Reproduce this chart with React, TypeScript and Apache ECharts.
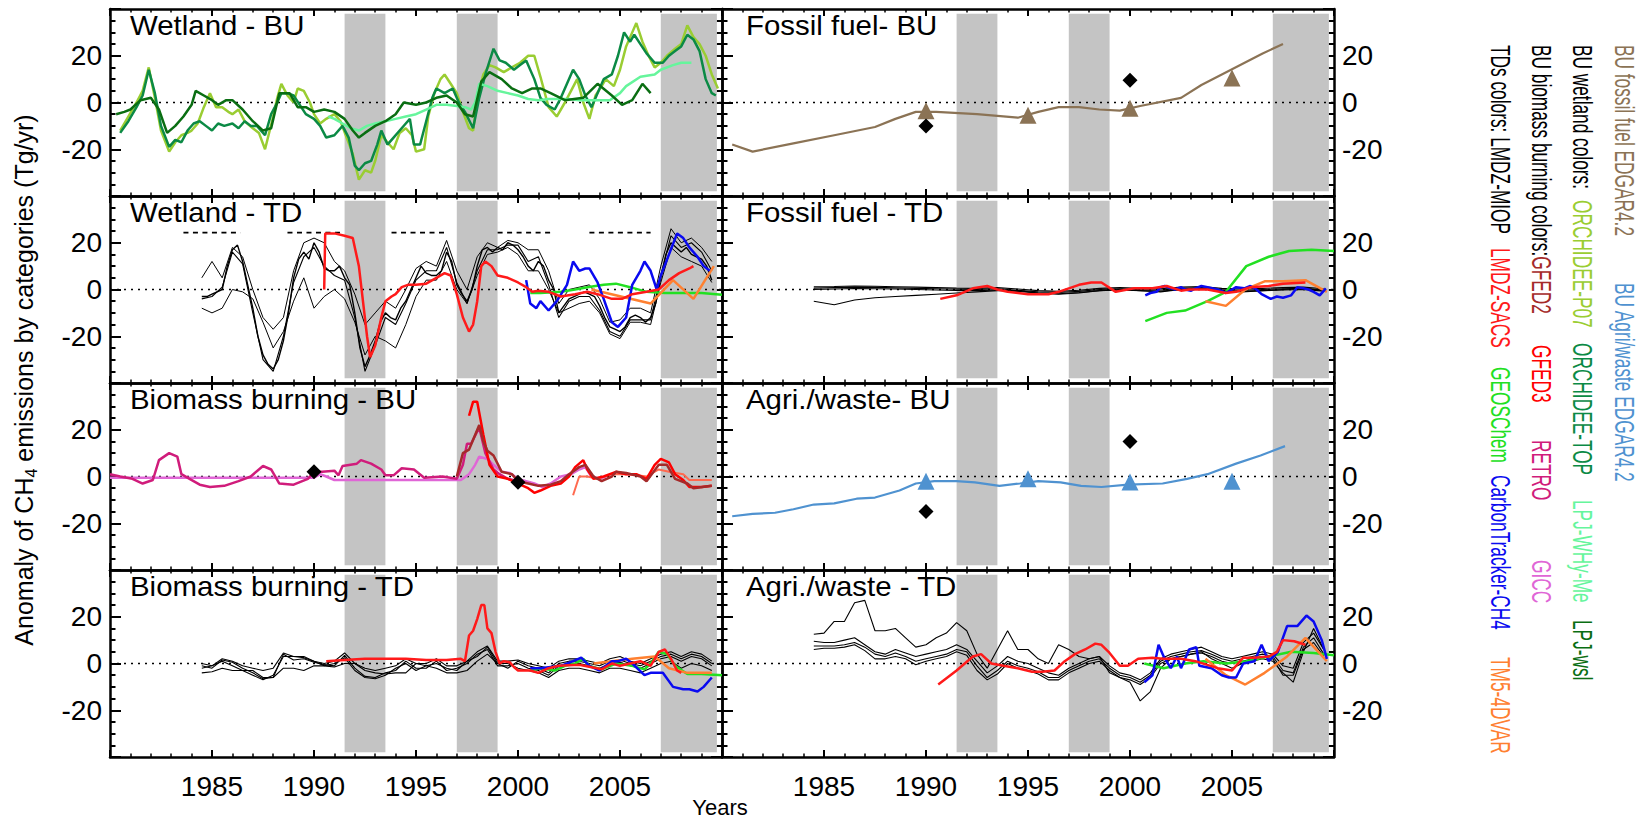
import React, { useEffect, useRef } from "react";
import * as echarts from "echarts";

type P = [number, number];

// ------------------------------------------------------------------ data
const xMin = 1980;
const xMax = 2010;
const xTickLabels = [1985, 1990, 1995, 2000, 2005];
const yTickLabels = [-20, 0, 20];
const greyBands: [number, number][] = [[1991.5, 1993.5], [1997.0, 1999.0], [2007.0, 2009.75]];
const panelTitles = [
  "Wetland - BU", "Fossil fuel- BU",
  "Wetland - TD", "Fossil fuel - TD",
  "Biomass burning - BU", "Agri./waste- BU",
  "Biomass burning - TD", "Agri./waste - TD",
];

// Wetland BU
const orchideeP07: P[] = [[1980.5,-12],[1980.9,-6],[1981.3,0],[1981.6,5],[1981.9,15],[1982.2,2],[1982.5,-12],[1982.9,-21],[1983.2,-17],[1983.5,-14],[1983.8,-13],[1984.0,-12],[1984.3,-9],[1984.6,-2],[1984.9,4],[1985.2,-2],[1985.5,-2],[1985.8,-4],[1986.0,-5],[1986.3,-3],[1986.6,-8],[1987.0,-11],[1987.3,-13],[1987.6,-20],[1988.0,-6],[1988.2,2],[1988.4,8],[1988.7,3],[1989.0,0],[1989.2,6],[1989.5,5],[1989.8,0],[1990.0,-5],[1990.3,-9],[1990.6,-7],[1991.0,-5],[1991.3,-8],[1991.6,-15],[1991.9,-22],[1992.2,-33],[1992.5,-29],[1992.8,-30],[1993.0,-25],[1993.3,-14],[1993.6,-17],[1993.9,-20],[1994.2,-13],[1994.5,-11],[1994.8,-14],[1995.0,-21],[1995.4,-20],[1995.6,-6],[1995.9,4],[1996.2,10],[1996.4,12],[1996.7,8],[1997.0,4],[1997.3,-4],[1997.6,-11],[1997.8,-12],[1998.0,2],[1998.3,12],[1998.6,16],[1998.9,15],[1999.3,13],[1999.7,15],[2000.1,17],[2000.5,20],[2000.8,20],[2001.1,11],[2001.5,-2],[2001.9,-6],[2002.3,0],[2002.6,5],[2002.9,10],[2003.2,0],[2003.5,-7],[2003.8,3],[2004.1,7],[2004.3,10],[2004.7,7],[2005.0,14],[2005.3,24],[2005.6,30],[2005.8,34],[2006.1,26],[2006.4,20],[2006.7,15],[2007.0,17],[2007.3,20],[2007.7,23],[2008.0,25],[2008.3,33],[2008.6,28],[2008.9,25],[2009.2,20],[2009.5,12],[2009.8,6]];
const orchideeTOP: P[] = [[1980.5,-13],[1980.9,-8],[1981.3,-2],[1981.6,3],[1981.9,14],[1982.2,4],[1982.5,-10],[1982.9,-19],[1983.2,-16],[1983.5,-17],[1983.8,-12],[1984.1,-9],[1984.4,-8],[1984.7,-10],[1985.0,-12],[1985.3,-9],[1985.6,-10],[1986.0,-9],[1986.3,-11],[1986.6,-8],[1986.9,-10],[1987.2,-10],[1987.6,-14],[1987.9,-5],[1988.2,0],[1988.4,4],[1988.7,4],[1989.0,3],[1989.3,-1],[1989.6,-5],[1990.0,-7],[1990.3,-10],[1990.6,-15],[1991.0,-14],[1991.4,-10],[1991.7,-15],[1992.0,-27],[1992.2,-29],[1992.5,-26],[1992.8,-25],[1993.1,-18],[1993.3,-12],[1993.6,-18],[1993.9,-15],[1994.2,-12],[1994.5,-9],[1994.7,-7],[1994.9,-18],[1995.2,-18],[1995.5,-8],[1995.8,2],[1996.0,6],[1996.4,4],[1996.8,6],[1997.1,0],[1997.4,-4],[1997.8,-11],[1998.1,2],[1998.4,12],[1998.8,23],[1999.1,18],[1999.4,17],[1999.8,14],[2000.1,16],[2000.4,18],[2000.8,10],[2001.1,2],[2001.4,-1],[2001.8,-3],[2002.1,2],[2002.4,8],[2002.7,14],[2003.0,10],[2003.3,3],[2003.6,-2],[2003.9,4],[2004.2,10],[2004.6,12],[2004.9,20],[2005.2,30],[2005.5,26],[2005.7,29],[2006.0,25],[2006.3,21],[2006.7,17],[2007.1,17],[2007.4,20],[2007.7,22],[2008.0,24],[2008.3,29],[2008.6,27],[2008.9,22],[2009.2,10],[2009.5,4],[2009.7,3]];
const lpjWHyMe: P[] = [[1990.7,-6],[1991.0,-7],[1991.4,-9],[1991.8,-11],[1992.2,-12],[1992.6,-10],[1993.0,-9],[1993.5,-8],[1994.0,-7],[1994.5,-6],[1995.0,-5],[1995.5,-3],[1996.0,-1],[1996.5,-1],[1997.0,-1.5],[1997.4,-2],[1997.7,-3],[1997.9,0],[1998.1,8],[1998.5,7],[1999.0,5],[1999.5,4],[2000.0,3],[2000.5,1.5],[2001.0,1],[2001.5,1.5],[2002.0,1.5],[2002.5,1.5],[2003.0,1],[2003.5,1],[2004.0,1],[2004.5,1],[2005.0,4],[2005.3,7],[2006.0,11],[2006.7,12],[2007.0,14],[2007.6,16],[2008.0,17],[2008.5,17]];
const lpjWsl: P[] = [[1980.3,-5],[1980.7,-4],[1981.0,-3],[1981.5,1],[1982.0,2],[1982.4,-3],[1982.8,-13],[1983.2,-10],[1983.6,-6],[1984.0,-1],[1984.2,5],[1984.6,3],[1985.0,1],[1985.3,-1],[1985.7,1],[1986.0,1],[1986.5,-3],[1987.0,-8],[1987.5,-12],[1987.9,-11],[1988.3,4],[1988.8,4],[1989.2,-2],[1989.6,-2],[1990.0,-4],[1990.5,-3],[1991.0,-4],[1991.5,-7],[1991.9,-12],[1992.2,-15],[1992.5,-13],[1993.0,-10],[1993.5,-8],[1994.0,-5],[1994.4,0],[1995.0,-1],[1995.5,0],[1996.0,2],[1996.5,3],[1997.0,0],[1997.4,-5],[1997.8,-6],[1998.2,9],[1998.6,13],[1999.2,10],[1999.7,6],[2000.2,4],[2000.7,6],[2001.1,6],[2001.6,4],[2002.3,1],[2003.2,2],[2003.9,8],[2004.6,3],[2005.1,-1],[2005.6,1],[2006.1,8],[2006.5,4]];

// Fossil fuel BU
const fossilEdgar: P[] = [[1980.5,-18],[1981.5,-21],[1983.5,-17.5],[1985.5,-14],[1987.5,-10.5],[1988.5,-7],[1989.5,-4],[1990.5,-4],[1992.5,-5],[1994.5,-6.5],[1995.5,-4],[1996.5,-2],[1997.5,-2],[1998.5,-3],[1999.5,-3.5],[2000.5,-1.5],[2002.5,2],[2003.5,7.5],[2005.5,16.5],[2006.5,21],[2007.5,25]];
const fossilTriangles: P[] = [[1990,-3.5],[1995,-5.5],[2000,-2.5],[2005,10.5]];
const fossilDiamonds: P[] = [[1990,-10],[2000,9.5]];

// Agri/waste BU
const agriEdgar: P[] = [[1980.5,-17],[1981.5,-16],[1982.6,-15.5],[1983.5,-14],[1984.5,-12],[1985.5,-11.5],[1986.6,-9.5],[1987.5,-9],[1988.7,-6],[1989.5,-3],[1990.4,-2],[1991.5,-2],[1992.4,-2.5],[1993.6,-4],[1994.6,-3],[1995.5,-2],[1996.6,-2.5],[1997.6,-4],[1998.6,-4.5],[1999.9,-3.5],[2001.6,-3],[2002.8,-1],[2003.8,1],[2005.2,5.5],[2006.4,9],[2007.6,13]];
const agriTriangles: P[] = [[1990,-2],[1995,-1],[2000,-2.3],[2005,-2]];
const agriDiamonds: P[] = [[1990,-15],[2000,15]];

// Biomass burning BU
const retro: P[] = [[1980.0,1],[1980.5,0],[1981.1,-1],[1981.6,-3],[1982.1,-1.5],[1982.4,7],[1982.9,10],[1983.3,8.5],[1983.5,1],[1983.9,-1],[1984.4,-3.5],[1984.9,-4.5],[1985.6,-4],[1986.3,-2],[1986.9,0],[1987.5,4.5],[1987.9,3],[1988.3,-3],[1989.0,-3.5],[1989.7,-1],[1990.0,2],[1990.4,2],[1991.0,2.5],[1991.2,0.5],[1991.4,4.5],[1992.1,5.5],[1992.3,7],[1992.8,5.5],[1993.3,3],[1993.5,0.5],[1993.9,0.5],[1994.3,3.5],[1994.9,3],[1995.4,-0.5],[1996.3,0],[1997.0,-1],[1997.3,5],[1997.5,14],[1997.7,14],[1998.1,21],[1998.4,10],[1998.8,3],[1999.1,1],[1999.5,-1],[2000.0,-2]];
const gicc: P[] = [[1980.0,-0.5],[1990.0,-0.5],[1990.3,1],[1990.6,0],[1991.0,-1.5],[1997.2,-1.5],[1997.6,1],[1997.9,5],[1998.1,8.5],[1998.5,7.5],[1998.8,5],[1999.2,2],[1999.6,1.5],[2000.0,-1],[2000.4,-2],[2000.8,-3],[2001.2,-4.5],[2001.6,-3],[2002.1,0],[2002.6,1],[2003.0,3],[2003.3,4],[2003.6,0],[2004.0,-1],[2004.3,0]];
const gfed2: P[] = [[1997.0,0],[1997.3,10],[1997.6,11.5],[1998.1,22],[1998.3,15],[1998.5,11],[1998.8,9],[1999.2,2],[1999.7,1],[2000.0,-2],[2000.5,-3],[2001.0,-4],[2001.6,-3.5],[2002.1,-2],[2002.5,1],[2003.0,4],[2003.3,5],[2003.7,0],[2004.1,-2],[2004.6,0],[2004.8,2],[2005.3,1.5],[2006.0,0],[2006.3,-2],[2006.9,5],[2007.3,5],[2007.7,-1],[2008.3,-3],[2008.6,-5],[2009.5,-4]];
const gfed3: P[] = [[1997.6,26],[1997.8,32],[1998.0,32],[1998.3,18],[1998.6,5],[1999.0,0],[1999.5,-1],[2000.0,-3],[2000.5,-5],[2000.8,-7],[2001.1,-6],[2001.6,-4],[2002.1,-3],[2002.5,0],[2002.8,4],[2003.2,7],[2003.4,3],[2003.7,-1],[2004.2,0],[2004.8,2],[2005.3,1],[2005.8,1],[2006.3,-1],[2006.7,5],[2007.0,7.5],[2007.4,6],[2007.7,1],[2008.1,-1.5],[2008.4,-4.5],[2009.0,-4.5],[2009.5,-4]];
const gfedOther: P[] = [[2002.7,-8],[2003.0,0],[2003.4,0],[2003.9,-1],[2004.6,1],[2005.5,1],[2006.3,0],[2006.9,3],[2007.4,2],[2008.1,1],[2008.4,-1.5],[2009.5,-1.5]];
const biomassDiamonds: P[] = [[1990,2],[2000,-2.5]];

// Wetland TD (LMDZ-MIOP members: start 1984.5)
const wtMemberA = [-3,-3,-2,-1,0,10,17,19,12,2,-8,-20,-28,-32,-34,-30,-22,-10,5,13,16,13,20,16,9,8,8,10,5,2,-10,-25,-33,-28,-22,-14,-10,-12,-13,-8,-5,0,5,10,7,6,6,8,16,12,2,-2,-5,0,10,17,18,16,18,17,20,19,17,14,10,8,12,10,4,0,-10,-7,-4,-3,-2,-1,-2,-3,-7,-12,-16,-17,-18,-16,-12,-11,-12,-14,-12,-6,5,15,20,18,16,18,15,14,13,10,4];
const wtMemberB = [-4,-3,1,16,11,-10,-30,-35,-20,3,14,18,10,6,4,-12,-35,-24,-12,-15,-6,4,8,8,18,3,-6,8,17,17,19,19,12,14,2,-12,-5,-3,-3,-9,-18,-20,-13,-13,-13,6,23,18,20,16,8];
const wtMemberU = [5,12,5,18,14,0,-12,-17,-12,8,20,22,20,12,8,-2,-15,-10,-5,-8,0,9,12,10,21,8,0,14,20,18,21,20,17,17,8,-6,0,1,2,-4,-14,-13,-8,-8,-10,10,26,20,22,18,12];
const wtMemberL = [-8,-10,-8,0,-1,-4,-14,-25,-18,-5,5,-8,-3,0,-4,-14,-28,-20,-22,-25,-15,-3,4,4,12,0,-6,6,15,16,18,15,8,8,0,-10,-8,-6,-5,-10,-19,-21,-14,-14,-15,3,18,14,12,10,3];
const wtDashLevel = 24.3;
const wtDashSpans: [number, number][] = [[1983.6,1986.4],[1988.7,1991.4],[1993.8,1996.5],[1999.0,2001.6],[2003.5,2006.5]];
const wtSacs: P[] = [[1990.5,0],[1990.55,24],[1991.0,24],[1991.5,23],[1991.9,22],[1992.2,10],[1992.4,-5],[1992.6,-20],[1992.75,-29],[1993.0,-24],[1993.3,-12],[1993.5,-5],[1993.8,-3],[1994.0,-2],[1994.3,1],[1994.6,2],[1995.0,2],[1995.5,2.5],[1996.0,5],[1996.4,7],[1996.7,6],[1997.0,-2],[1997.3,-12],[1997.6,-18],[1997.8,-15],[1998.0,-5],[1998.2,10],[1998.4,12],[1998.7,10],[1999.0,6],[1999.5,5],[2000.0,3],[2000.4,1],[2000.7,-1],[2001.0,-0.5],[2001.5,-1],[2002.1,-3],[2002.8,-2],[2003.4,-1],[2003.9,-2],[2004.6,-4],[2005.1,-4],[2005.6,-2],[2006.3,-1],[2006.9,0],[2007.4,4],[2007.9,7],[2008.4,9],[2008.6,10]];
const wtGeos: P[] = [[2000.6,-1.5],[2001.1,-1.5],[2002.1,-1],[2002.8,0],[2003.4,1],[2004.2,2],[2004.8,2.5],[2005.5,1],[2006.3,-1],[2007.2,-1.5],[2008.1,-1.5],[2009.0,-1.5],[2010.0,-2.2]];
const wtCt: P[] = [[2000.4,4],[2000.6,-6],[2000.9,-8],[2001.1,-5],[2001.5,-9],[2001.9,-5],[2002.4,2],[2002.7,12],[2003.0,8],[2003.3,9],[2003.5,9],[2003.9,3],[2004.2,-4],[2004.6,-14],[2004.9,-16],[2005.3,-12],[2005.6,2],[2006.0,8],[2006.2,12],[2006.5,8],[2006.8,0],[2007.0,6],[2007.4,15],[2007.8,24],[2008.1,22],[2008.4,18],[2008.8,14],[2009.1,10],[2009.4,8]];
const wtTm5: P[] = [[2003.6,0],[2006.5,-6],[2007.6,4],[2008.6,-4],[2009.6,10]];

// Fossil fuel TD (members: start 1984.5, yearly)
const ftMember1 = [1.2,1.3,1.5,1.4,1.2,1.0,0.8,0.6,0.5,0.8,0.2,-0.5,-0.8,-0.3,0.5,0.8,0.5,0.3,1.0,1.3,0.5,0.2,0.5,0.8,1.0,0.3];
const ftMember2 = [0.6,0.8,1.0,0.9,0.7,0.5,0.3,0.1,0.0,0.3,-0.3,-1.0,-1.3,-0.8,0.0,0.3,0.0,-0.2,0.5,0.8,0.0,-0.3,0.0,0.3,0.5,-0.2];
const ftMember3 = [0.0,0.2,0.4,0.3,0.2,0.0,-0.2,-0.4,-0.5,-0.2,-0.8,-1.5,-1.8,-1.3,-0.5,-0.2,-0.5,-0.7,0.0,0.3,-0.5,-0.8,-0.5,-0.2,0.0,-0.7];
const ftMember4 = [-5.0,-6.5,-4.5,-3.5,-3.0,-2.5,-2.0,-1.5,-1.0,-0.5,-0.5,-1.5,-2.0,-1.5,-0.5,0.0,-0.5,-1.0,0.0,0.5,-0.5,-1.0,-0.5,0.0,0.5,-0.5];
const ftSacs: P[] = [[1990.7,-4],[1991.5,-2.5],[1992.3,0.5],[1993.0,1.5],[1993.5,0],[1994.0,-1],[1995.0,-2],[1996.0,-2],[1996.5,-1],[1997.0,0.5],[1997.5,2],[1998.1,3],[1998.6,3],[1999.3,-1],[2000.2,0.5],[2001.1,0.5],[2001.8,1.5],[2002.5,-0.5],[2002.9,0],[2003.8,0],[2004.7,-1.5],[2005.2,-1],[2005.9,1],[2006.8,1.5],[2007.5,2.5],[2008.6,3]];
const ftCt: P[] = [[2000.75,-2.5],[2001.0,-1.5],[2001.3,-1],[2001.5,1],[2001.7,1.5],[2002.0,0.5],[2002.2,0],[2002.5,1],[2002.7,0],[2003.0,-0.5],[2003.2,0.5],[2003.5,1.5],[2003.8,1],[2004.3,0],[2004.7,-1.5],[2005.0,0],[2005.2,1],[2005.6,0.5],[2005.9,1.5],[2006.2,0],[2006.45,-2],[2006.9,-4],[2007.2,-3],[2007.5,-3.5],[2007.9,-2.5],[2008.2,1],[2008.5,0.5],[2008.75,0],[2009.0,-1],[2009.3,-2.5],[2009.6,0.5]];
const ftGeos: P[] = [[2000.75,-13.5],[2001.8,-10],[2002.7,-9],[2003.8,-5],[2004.7,-1],[2005.7,10],[2006.8,14],[2007.8,16.5],[2008.9,17],[2010.0,16.5]];
const ftTm5: P[] = [[2003.7,-5],[2004.7,-7],[2005.65,0],[2006.6,3.5],[2007.5,3.5],[2008.6,4],[2009.65,-1]];

// Biomass burning TD (members: start 1984.5, half-yearly)
const btMember1 = [-1,-2,1.5,0.5,-2,-4,-6.5,-6,4,1.5,2,0.5,-0.5,-1,3.5,-2,-5.5,-6,-4,-3,1,-2,-2,1,-3,-2,0,4,6,-1,-1,0,-2,-3,-5,-1,0,0,-1,-2,0,0.5,-1,-2,0,2,3,1,3,2,-1];
const btMember2 = [-2,-1,1,-1,-3,-5,-7,-5,3,3,2.5,1,-1,0,2.5,-3,-6,-6.5,-5,-2,0,-3,-1,0,-2,-3,1,3,7,0,-2,1,-1,-2,-4,0,1,1,0,-1,1,1.5,0,-1,1,3,4,2,4,3,0];
const btMember3 = [-4,-3.5,-2,-3,-3,-3,-6,-6,-2,-2,-3,-1,-1,-1.5,0,0,-3,-4,-4.5,-4,-4,0,-1,-2,-4,-4,-3,1,4,0,0,-2,-3,-4,-6,-3,-2,-2,-3,-4,-2,-2,-3,-4,-2,0,1,-2,0,-1,-3];
const btMember4 = [0,-1,2,1,-1,-2,-3,-2,4.5,3,3,1,0,1,4.5,0,-2,-3,-2,-1,2,0,0,2,-1,-1,1,5,7.5,1,1,1.5,0,-1,-2,1,2,2,1,0,2,3,1,0,2,4,5,3,5,4,1];
const btSacs: P[] = [[1990.6,1],[1991.5,1.5],[1992.5,2],[1993.5,2],[1994.5,2],[1995.5,1.5],[1996.5,1.5],[1997.2,2],[1997.4,1],[1997.6,12],[1997.8,14],[1998.0,19],[1998.2,25],[1998.35,25],[1998.5,15],[1998.7,13],[1998.9,5],[1999.1,0],[1999.3,1],[1999.6,0.5],[1999.8,-1.5],[2000.0,-3],[2000.3,-3],[2000.6,-3],[2001.0,-4],[2001.5,-2],[2002.0,-1],[2003.0,-0.5],[2004.1,-2.5],[2004.6,0],[2005.0,-1],[2005.5,0],[2006.0,1],[2006.5,-1],[2006.9,5],[2007.2,6],[2007.5,2],[2007.8,-3],[2008.0,-4]];
const btCt: P[] = [[2000.6,-2],[2001.1,-2],[2001.6,-1.5],[2002.1,-1],[2002.7,1],[2003.1,2.5],[2003.5,-1],[2004.0,-3],[2004.6,1],[2004.9,1],[2005.3,2],[2005.6,0],[2006.2,-5],[2006.5,-4],[2007.1,-4],[2007.6,-10],[2008.1,-11],[2008.4,-11],[2008.8,-12],[2009.1,-10],[2009.5,-6]];
const btGeos: P[] = [[2000.6,-3],[2001.1,-2],[2001.8,-3],[2002.3,-1],[2002.8,0],[2003.2,2],[2003.5,-1],[2004.1,-2.5],[2004.8,0],[2005.6,-1],[2006.2,-2.5],[2006.5,0],[2006.9,5],[2007.3,4],[2007.7,-1],[2008.3,-4.5],[2009.0,-4.5],[2010.0,-5]];
const btTm5: P[] = [[2003.7,0],[2005.6,2],[2006.7,3],[2007.4,-2],[2008.3,-4],[2009.5,-4]];

// Agri/waste TD (members: start 1984.5, half-yearly)
const atMemberU = [12.5,13,18,18,26,27,14,14,15,11,7,8,11,13,17.5,14,4,-2,6,14,6,6,2,0,8,6,3,2,3,-4,-6,-8,-16,-12,-2,2,3,4,5,2,0,-2,0,1,2,1,-4,-8,5,15,6];
const atMember1 = [7.5,7.5,7.5,8,9,7,4,3,4.5,3,1,2,3,4,6,5,-1,-6,-3,1,-1,-2,-3.5,-6,-6,-3,-1,1,2,-2,-5,-6,-8,-5,1,3,4,5,5.5,4,2,1,2,3,4,3,-3,-4,7,11,4];
const atMember2 = [9.5,9,9,10,11,8,5,4,6,4.5,3,4,5,6,8,6,1,-4,-1,3,1,0,-2,-4,-5,-2,0,2,3,-1,-4,-5,-7,-4,2,4,5,6,7,5,3,2,3,4,5,4,-1,-2,9,13,6];
const atMember3 = [6,6.5,6.5,7,8,5.5,2,2,3,2,-0.5,1,2,3,5,3.5,-3,-7,-4.5,0,-2,-3,-4.5,-7,-7,-4,-2,0,1,-3,-6,-7,-9,-6,0,2,3,4,4.5,3,1,0,1,2,3,2,-5,-5,6,9,3];
const atSacs: P[] = [[1990.6,-9],[1991.5,-3],[1992.3,3],[1992.7,4],[1993.2,0],[1993.8,-1],[1994.5,-2],[1995.2,-3.5],[1995.7,-3.5],[1996.3,-3],[1996.8,1],[1997.3,4],[1997.8,6],[1998.3,8.5],[1998.6,8],[1998.95,5],[1999.5,-1],[1999.9,-1],[2000.4,2],[2001.1,2.5],[2001.6,2],[2002.5,2],[2003.2,1],[2004.3,-2],[2005.0,-3],[2005.55,2.5],[2006.1,2.5],[2006.8,3],[2007.2,5],[2007.5,10],[2008.05,9.5],[2008.6,8]];
const atCt: P[] = [[2000.7,-8],[2001.1,-5],[2001.4,8],[2001.65,3],[2002.0,-2],[2002.3,3],[2002.5,-2],[2002.9,6],[2003.25,7],[2003.4,-1],[2004.0,-2],[2004.5,-5],[2004.85,-6],[2005.2,-6],[2005.55,0],[2006.1,1],[2006.45,8],[2006.8,1],[2007.25,5],[2007.7,16],[2008.2,16],[2008.65,20.5],[2009.0,18],[2009.4,10],[2009.65,2]];
const atGeos: P[] = [[2000.7,0],[2001.65,-2],[2002.7,0],[2003.6,1],[2004.7,0],[2005.7,1],[2006.8,3],[2007.9,5],[2009.0,4.5],[2010.0,3.5]];
const atTm5: P[] = [[2003.7,2],[2004.7,-5],[2005.65,-9],[2006.6,-4],[2007.7,3],[2008.6,11],[2009.65,1]];

// legend texts
const legendTexts = {
  fossil: "BU fossil fuel EDGAR4.2",
  agri: "BU Agri/waste EDGAR4.2",
  wetlandHead: "BU wetland colors:",
  wetland: ["ORCHIDEE-P07", "ORCHIDEE-TOP", "LPJ-WHy-Me", "LPJ-wsl"],
  biomassHead: "BU biomass burning colors:",
  biomass: ["GFED2", "GFED3", "RETRO", "GICC"],
  tdHead: "TDs colors: LMDZ-MIOP",
  td: ["LMDZ-SACS", "GEOSChem", "CarbonTracker-CH4", "TM5-4DVAR"],
};

// ------------------------------------------------------------------ styles / layout
const FONT = "'Liberation Sans', Arial, Helvetica, sans-serif";
const C = {
  fossil: "#8b7355", agri: "#4f92d0",
  p07: "#9acd32", top: "#0b8a45", why: "#66f59c", wsl: "#0a6e12",
  gfed2: "#a52a2a", gfed3: "#ff0000", retro: "#d01c7b", gicc: "#e066d6", gfedOther: "#ff6a50",
  sacs: "#ff1a1a", geos: "#22e022", ct: "#0a0af0", tm5: "#ff8030",
};
const GRID_LEFT = [110, 722];
const GRID_TOP = 9;
const ROW_H = 187;
const GRID_W = 612;

function members(start: number, step: number, vals: number[]): P[] {
  return vals.map((v, i) => [Math.round((start + i * step) * 1000) / 1000, v] as P);
}

function buildOption() {
  const grid: any[] = [];
  const xAxis: any[] = [];
  const yAxis: any[] = [];
  const series: any[] = [];
  const graphic: any[] = [];

  const axisLine = { show: true, onZero: false, lineStyle: { color: "#000", width: 2.5 } };
  for (let g = 0; g < 8; g++) {
    const r = Math.floor(g / 2);
    const c = g % 2;
    grid.push({ left: GRID_LEFT[c], top: GRID_TOP + r * ROW_H, width: GRID_W, height: ROW_H });
    const xBase = {
      type: "value", gridIndex: g, min: xMin, max: xMax, interval: 5,
      axisLine, splitLine: { show: false },
      axisTick: { show: true, inside: true, length: 7, lineStyle: { color: "#000", width: 2 } },
      minorTick: { show: true, splitNumber: 5, length: 3.5, lineStyle: { color: "#000", width: 1.5 } },
    };
    xAxis.push({
      ...xBase, position: "bottom",
      axisLabel: {
        show: r === 3, fontSize: 28, color: "#000", fontFamily: FONT, margin: 15,
        formatter: (v: number) => (xTickLabels.includes(v) ? String(v) : ""),
      },
    });
    xAxis.push({ ...xBase, position: "top", axisLabel: { show: false } });
    const yBase = {
      type: "value", gridIndex: g, min: -40, max: 40, interval: 20,
      axisLine, splitLine: { show: false },
      axisTick: { show: true, inside: true, length: 11, lineStyle: { color: "#000", width: 2 } },
      minorTick: { show: true, splitNumber: 4, length: 5.5, lineStyle: { color: "#000", width: 2 } },
    };
    const yLab = (show: boolean) => ({
      show, fontSize: 28, color: "#000", fontFamily: FONT, margin: 8,
      formatter: (v: number) => (yTickLabels.includes(v) ? String(v) : ""),
    });
    yAxis.push({ ...yBase, position: "left", axisLabel: yLab(c === 0) });
    yAxis.push({ ...yBase, position: "right", axisLabel: yLab(c === 1) });

    // dotted zero line + grey bands
    series.push({
      type: "line", xAxisIndex: 2 * g, yAxisIndex: 2 * g, data: [[xMin, 0], [xMax, 0]],
      symbol: "none", silent: true, z: 2,
      lineStyle: { color: "#000", width: 1.3, type: [2, 5] },
      markArea: {
        silent: true, itemStyle: { color: "#c4c4c4", opacity: 1 },
        data: greyBands.map(([a, b]) => [{ xAxis: a, yAxis: -38 }, { xAxis: b, yAxis: 38 }]),
      },
    });

    graphic.push({
      type: "text", z: 100, x: GRID_LEFT[c] + (c === 0 ? 20 : 24), y: GRID_TOP + r * ROW_H + 16, scaleX: 1.09,
      style: { text: panelTitles[g], fill: "#000", fontSize: 27, fontFamily: FONT, textAlign: "left", textVerticalAlign: "middle", align: "left", verticalAlign: "middle" },
    });
  }

  const line = (g: number, data: P[], color: string, width: number, z = 4, type: any = "solid") =>
    series.push({
      type: "line", xAxisIndex: 2 * g, yAxisIndex: 2 * g, data, symbol: "none", showSymbol: false,
      silent: true, z, lineStyle: { color, width, type },
    });
  const scatter = (g: number, data: P[], color: string, symbol: string, size: number) =>
    series.push({
      type: "scatter", xAxisIndex: 2 * g, yAxisIndex: 2 * g, data, symbol, symbolSize: size,
      silent: true, z: 6, itemStyle: { color, opacity: 1 },
    });

  // Wetland BU (0)
  line(0, orchideeP07, C.p07, 2.5);
  line(0, orchideeTOP, C.top, 2.5);
  line(0, lpjWHyMe, C.why, 2.5);
  line(0, lpjWsl, C.wsl, 2.5);

  // Fossil BU (1)
  line(1, fossilEdgar, C.fossil, 2.2);
  scatter(1, fossilTriangles, C.fossil, "triangle", 17);
  scatter(1, fossilDiamonds, "#000", "diamond", 15);

  // Wetland TD (2)
  wtDashSpans.forEach(([a, b]) => line(2, [[a, wtDashLevel], [b, wtDashLevel]], "#000", 1.8, 3, [5, 4.5]));
  line(2, members(1984.5, 0.25, wtMemberA), "#000", 1.4, 3);
  line(2, members(1984.5, 0.5, wtMemberB), "#000", 1.1, 3);
  line(2, members(1984.5, 0.5, wtMemberU), "#000", 1, 3);
  line(2, members(1984.5, 0.5, wtMemberL), "#000", 1, 3);
  line(2, wtGeos, C.geos, 2.5);
  line(2, wtTm5, C.tm5, 2.5);
  line(2, wtCt, C.ct, 2.5);
  line(2, wtSacs, C.sacs, 2.5);

  // Fossil TD (3)
  [ftMember1, ftMember2, ftMember3, ftMember4].forEach((m) => line(3, members(1984.5, 1, m), "#000", 1.1, 3));
  line(3, ftGeos, C.geos, 2.5);
  line(3, ftTm5, C.tm5, 2.5);
  line(3, ftCt, C.ct, 2.5);
  line(3, ftSacs, C.sacs, 2.5);

  // Biomass BU (4)
  line(4, gicc, C.gicc, 2.5);
  line(4, retro, C.retro, 2.5);
  line(4, gfedOther, C.gfedOther, 2);
  line(4, gfed3, C.gfed3, 2.5);
  line(4, gfed2, C.gfed2, 2.5);
  scatter(4, biomassDiamonds, "#000", "diamond", 15);

  // Agri BU (5)
  line(5, agriEdgar, C.agri, 2.2);
  scatter(5, agriTriangles, C.agri, "triangle", 17);
  scatter(5, agriDiamonds, "#000", "diamond", 15);

  // Biomass TD (6)
  [btMember1, btMember2, btMember3, btMember4].forEach((m) => line(6, members(1984.5, 0.5, m), "#000", 1.1, 3));
  line(6, btGeos, C.geos, 2.5);
  line(6, btTm5, C.tm5, 2.5);
  line(6, btCt, C.ct, 2.5);
  line(6, btSacs, C.sacs, 2.5);

  // Agri TD (7)
  [atMemberU, atMember1, atMember2, atMember3].forEach((m) => line(7, members(1984.5, 0.5, m), "#000", 1.1, 3));
  line(7, atGeos, C.geos, 2.5);
  line(7, atTm5, C.tm5, 2.5);
  line(7, atCt, C.ct, 2.5);
  line(7, atSacs, C.sacs, 2.5);

  // y-axis title
  graphic.push({
    type: "text", z: 100, x: 24, y: 380, rotation: Math.PI / 2,
    style: {
      text: "Anomaly of CH{s|4} emissions by categories (Tg/yr)",
      fill: "#000", fontSize: 25, fontFamily: FONT, lineHeight: 30,
      textAlign: "center", textVerticalAlign: "middle", align: "center", verticalAlign: "middle",
      rich: { s: { fontSize: 16, fontFamily: FONT, lineHeight: 14, verticalAlign: "bottom", fill: "#000" } },
    },
  });
  // x-axis title
  graphic.push({
    type: "text", z: 100, x: 720, y: 807,
    style: { text: "Years", fill: "#000", fontSize: 22, fontFamily: FONT, textAlign: "center", textVerticalAlign: "middle", align: "center", verticalAlign: "middle" },
  });

  // legend (vertical text)
  const LS = 27;
  const SX = 0.64;
  const vText = (x: number, y: number, text: string, fill: string, rich?: any) => graphic.push({
    type: "text", z: 100, x, y, rotation: -Math.PI / 2, scaleX: SX,
    style: { text, fill, fontSize: LS, fontFamily: FONT, textAlign: "left", textVerticalAlign: "middle", align: "left", verticalAlign: "middle", rich },
  });
  vText(1625, 45, legendTexts.fossil, C.fossil);
  vText(1625, 283, legendTexts.agri, C.agri);
  vText(1583, 45, legendTexts.wetlandHead, "#000");
  [[200, C.p07], [343, C.top], [500, C.why], [620, C.wsl]].forEach(([y, col], i) => vText(1583, y as number, legendTexts.wetland[i], col as string));
  vText(1542, 45, legendTexts.biomassHead + "{g|" + legendTexts.biomass[0] + "}", "#000", { g: { fill: C.gfed2, fontSize: LS, fontFamily: FONT } });
  [[345, C.gfed3], [440, C.retro], [560, C.gicc]].forEach(([y, col], i) => vText(1542, y as number, legendTexts.biomass[i + 1], col as string));
  vText(1501, 45, legendTexts.tdHead, "#000");
  [[248, C.sacs], [367, C.geos], [475, C.ct], [657, C.tm5]].forEach(([y, col], i) => vText(1501, y as number, legendTexts.td[i], col as string));

  return {
    animation: false,
    backgroundColor: "#ffffff",
    grid, xAxis, yAxis, series, graphic,
  };
}

export default function App() {
  const ref = useRef<HTMLDivElement>(null);
  useEffect(() => {
    if (!ref.current) return;
    const chart = echarts.init(ref.current, undefined, { renderer: "svg" });
    chart.setOption(buildOption() as any);
    return () => chart.dispose();
  }, []);
  return (
    <div
      ref={ref}
      style={{ position: "fixed", left: 0, top: 0, width: 1649, height: 820, background: "#fff" }}
    />
  );
}
